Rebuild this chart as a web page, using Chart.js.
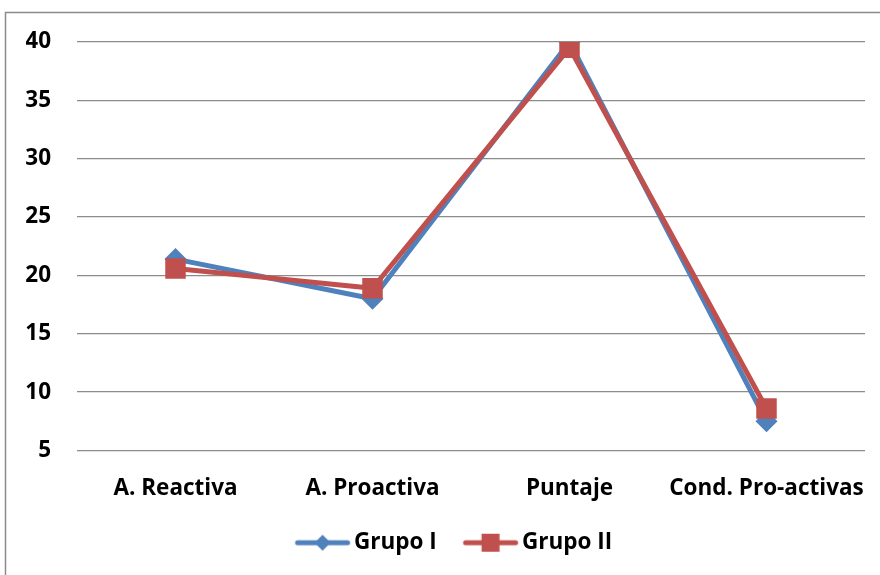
<!DOCTYPE html>
<html>
<head>
<meta charset="utf-8">
<script src="https://cdn.jsdelivr.net/npm/chart.js@4.4.1/dist/chart.umd.min.js"></script>
<style>
  html, body { margin: 0; padding: 0; background: #fff; }
  canvas { display: block; }
</style>
</head>
<body>
<canvas id="c" width="880" height="575"></canvas>
<script>
// Category labels, series values and axis ticks
const categories = ['A. Reactiva', 'A. Proactiva', 'Puntaje', 'Cond. Pro-activas'];
const grupoI = [21.4, 18.0, 40.0, 7.5];
const grupoII = [20.6, 18.9, 39.5, 8.6];
const seriesNames = ['Grupo I', 'Grupo II'];
const yTicks = [5, 10, 15, 20, 25, 30, 35, 40];

const BLUE = '#4F81BD';
const RED = '#C0504D';
const FONT = '"Open Sans", Lato, sans-serif';
const WEIGHT = 'bold';
const FSIZE = 22.5;

// Legend swatch: a short line with the series marker in the middle.
// The image is a bit wider than the legend box so the line runs close to the text.
function legendSwatch(color, style) {
  const c = document.createElement('canvas');
  c.width = 80; c.height = 24;
  const g = c.getContext('2d');
  g.strokeStyle = color; g.lineWidth = 5; g.lineCap = 'round';
  g.beginPath(); g.moveTo(26.75, 12); g.lineTo(76.75, 12); g.stroke();
  g.fillStyle = color;
  const cx = 51.75;
  if (style === 'diamond') {
    g.beginPath();
    g.moveTo(cx, 4); g.lineTo(cx + 8, 12); g.lineTo(cx, 20); g.lineTo(cx - 8, 12);
    g.closePath(); g.fill();
  } else {
    g.fillRect(cx - 9, 3, 18, 18);
  }
  return c;
}
const swatches = [legendSwatch(BLUE, 'diamond'), legendSwatch(RED, 'square')];

// Outer frame around the chart
const framePlugin = {
  id: 'frame',
  beforeDraw(chart) {
    const ctx = chart.ctx;
    ctx.save();
    ctx.strokeStyle = '#8a8a8a';
    ctx.lineWidth = 1.5;
    ctx.strokeRect(5.5, 12.5, 900, 600);
    ctx.restore();
  }
};

new Chart(document.getElementById('c'), {
  type: 'line',
  data: {
    labels: categories,
    datasets: [
      {
        label: seriesNames[0],
        data: grupoI,
        borderColor: BLUE,
        backgroundColor: BLUE,
        borderWidth: 5,
        pointStyle: 'rectRot',
        pointRadius: 11,
        pointHoverRadius: 11,
        pointBorderWidth: 0,
        borderJoinStyle: 'round',
        borderCapStyle: 'round',
        order: 1,
        tension: 0
      },
      {
        label: seriesNames[1],
        data: grupoII,
        borderColor: RED,
        backgroundColor: RED,
        borderWidth: 5,
        pointStyle: 'rect',
        pointRadius: 14.5,
        pointHoverRadius: 14.5,
        pointBorderWidth: 0,
        borderJoinStyle: 'round',
        borderCapStyle: 'round',
        order: 0,
        tension: 0
      }
    ]
  },
  options: {
    responsive: false,
    animation: false,
    layout: { padding: { left: 26, right: 15, top: 42, bottom: 11 } },
    scales: {
      x: {
        offset: true,
        grid: { display: false, drawTicks: false },
        border: { display: false },
        ticks: {
          color: '#000',
          font: { family: FONT, size: FSIZE, weight: WEIGHT },
          padding: 25,
          autoSkip: false,
          maxRotation: 0
        },
        afterFit(s) {
          s.height = 71;
          // labels fit inside their category slots; no extra side room needed
          s.paddingLeft = 0;
          s.paddingRight = 0;
        }
      },
      y: {
        min: 5,
        max: 40,
        grid: { color: '#8c8c8c', lineWidth: 1.3, drawTicks: false },
        border: { display: false },
        ticks: {
          color: '#000',
          font: { family: FONT, size: FSIZE, weight: WEIGHT },
          padding: 26
        },
        afterBuildTicks(s) { s.ticks = yTicks.map(v => ({ value: v })); },
        afterFit(s) { s.width = 51; }
      }
    },
    plugins: {
      tooltip: { enabled: false },
      legend: {
        position: 'bottom',
        labels: {
          usePointStyle: true,
          pointStyleWidth: 64,
          padding: 10,
          color: '#000',
          font: { family: FONT, size: FSIZE, weight: WEIGHT },
          sort: (a, b) => a.datasetIndex - b.datasetIndex,
          generateLabels(chart) {
            return Chart.defaults.plugins.legend.labels.generateLabels(chart)
              .map(it => Object.assign({}, it, { pointStyle: swatches[it.datasetIndex] }));
          }
        }
      }
    }
  },
  plugins: [framePlugin]
});
</script>
</body>
</html>
